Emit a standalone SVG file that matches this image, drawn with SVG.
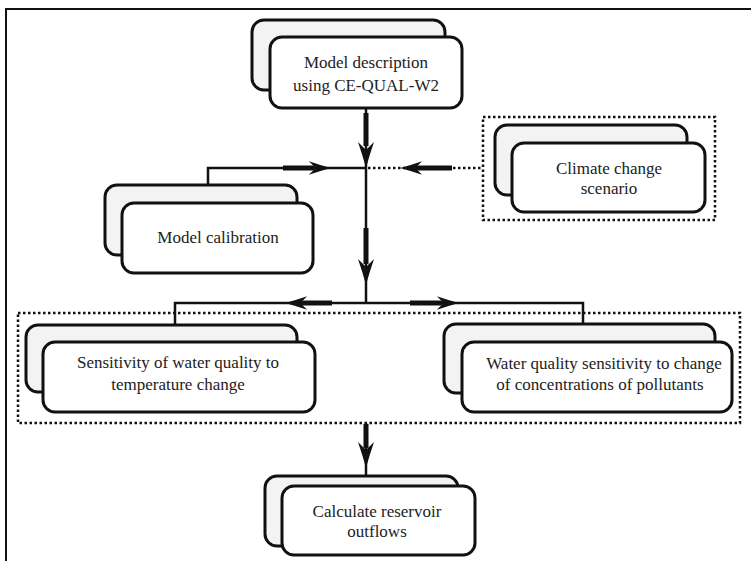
<svg xmlns="http://www.w3.org/2000/svg" width="751" height="561" viewBox="0 0 751 561">
<style>
.back{fill:#f3f3f3;stroke:#111;stroke-width:3}
.front{fill:#fff;stroke:#111;stroke-width:3}
.lbl{font-family:'Liberation Serif','Times New Roman',Tinos,'DejaVu Serif',serif;font-size:17px;fill:#222;text-anchor:middle}
.ln{fill:none;stroke:#111;stroke-width:2.5}
.thk{fill:none;stroke:#111;stroke-width:5}
.dot{fill:none;stroke:#111;stroke-width:2.5;stroke-dasharray:2.5 2.5}
.frame{fill:none;stroke:#111;stroke-width:2}
</style>
<defs>
<path id="ah" d="M0,0 Q-13,-3.5 -26,-8 L-18,0 L-26,8 Q-13,3.5 0,0 Z" fill="#111"/>
</defs>
<rect width="751" height="561" fill="#fff"/>
<path class="frame" d="M6,561 V9 H751"/>

<g id="groups">
<rect class="dot" x="483" y="117" width="232" height="103"/>
<rect class="dot" x="18" y="313" width="722" height="110"/>
</g>

<g id="connectors">
<line class="ln" x1="366" y1="108" x2="366" y2="168"/>
<line class="thk" x1="366" y1="113" x2="366" y2="146"/>
<use href="#ah" transform="translate(366,168) rotate(90)"/>

<polyline class="ln" points="208,184 208,168 366,168"/>
<line class="thk" x1="283" y1="168" x2="314" y2="168"/>
<use href="#ah" transform="translate(331,168) scale(0.85)"/>

<line class="dot" x1="368" y1="168" x2="483" y2="168"/>
<line class="thk" x1="412" y1="168" x2="452" y2="168"/>
<use href="#ah" transform="translate(400,168) rotate(180) scale(0.85)"/>

<line class="ln" x1="366" y1="168" x2="366" y2="303"/>
<line class="thk" x1="366" y1="228" x2="366" y2="264"/>
<use href="#ah" transform="translate(366,285) rotate(90)"/>

<polyline class="ln" points="366,303 175,303 175,324"/>
<line class="thk" x1="300" y1="303" x2="332" y2="303"/>
<use href="#ah" transform="translate(285,303) rotate(180) scale(0.85)"/>

<polyline class="ln" points="366,303 583,303 583,324"/>
<line class="thk" x1="410" y1="303" x2="442" y2="303"/>
<use href="#ah" transform="translate(459,303) scale(0.85)"/>

<line class="ln" x1="366" y1="423" x2="366" y2="477"/>
<line class="thk" x1="366" y1="424" x2="366" y2="448"/>
<use href="#ah" transform="translate(366,468) rotate(90)"/>
</g>

<g id="model-description">
<rect class="back" x="252" y="20" width="193" height="70" rx="12"/>
<rect class="front" x="270" y="37" width="192" height="71" rx="12"/>
<text class="lbl" x="366" y="68">Model description</text>
<text class="lbl" x="366" y="91">using CE-QUAL-W2</text>
</g>

<g id="climate-change">
<rect class="back" x="495" y="125" width="192" height="70" rx="12"/>
<rect class="front" x="512" y="143" width="193" height="69" rx="12"/>
<text class="lbl" x="609" y="174">Climate change</text>
<text class="lbl" x="609" y="194">scenario</text>
</g>

<g id="model-calibration">
<rect class="back" x="105" y="185" width="192" height="70" rx="12"/>
<rect class="front" x="122" y="203" width="191" height="70" rx="12"/>
<text class="lbl" x="218" y="243">Model calibration</text>
</g>

<g id="sensitivity-temperature">
<rect class="back" x="26" y="325" width="271" height="67" rx="12"/>
<rect class="front" x="43" y="342" width="272" height="70" rx="12"/>
<text class="lbl" x="178" y="368">Sensitivity of water quality to</text>
<text class="lbl" x="178" y="390">temperature change</text>
</g>

<g id="sensitivity-pollutants">
<rect class="back" x="444" y="324" width="271" height="69" rx="12"/>
<rect class="front" x="462" y="342" width="270" height="70" rx="12"/>
<text class="lbl" x="604" y="369">Water quality sensitivity to change</text>
<text class="lbl" x="600" y="390">of concentrations of pollutants</text>
</g>

<g id="reservoir-outflows">
<rect class="back" x="265" y="476" width="193" height="70" rx="12"/>
<rect class="front" x="282" y="486" width="193" height="69" rx="12"/>
<text class="lbl" x="377" y="517">Calculate reservoir</text>
<text class="lbl" x="377" y="537">outflows</text>
</g>
</svg>
